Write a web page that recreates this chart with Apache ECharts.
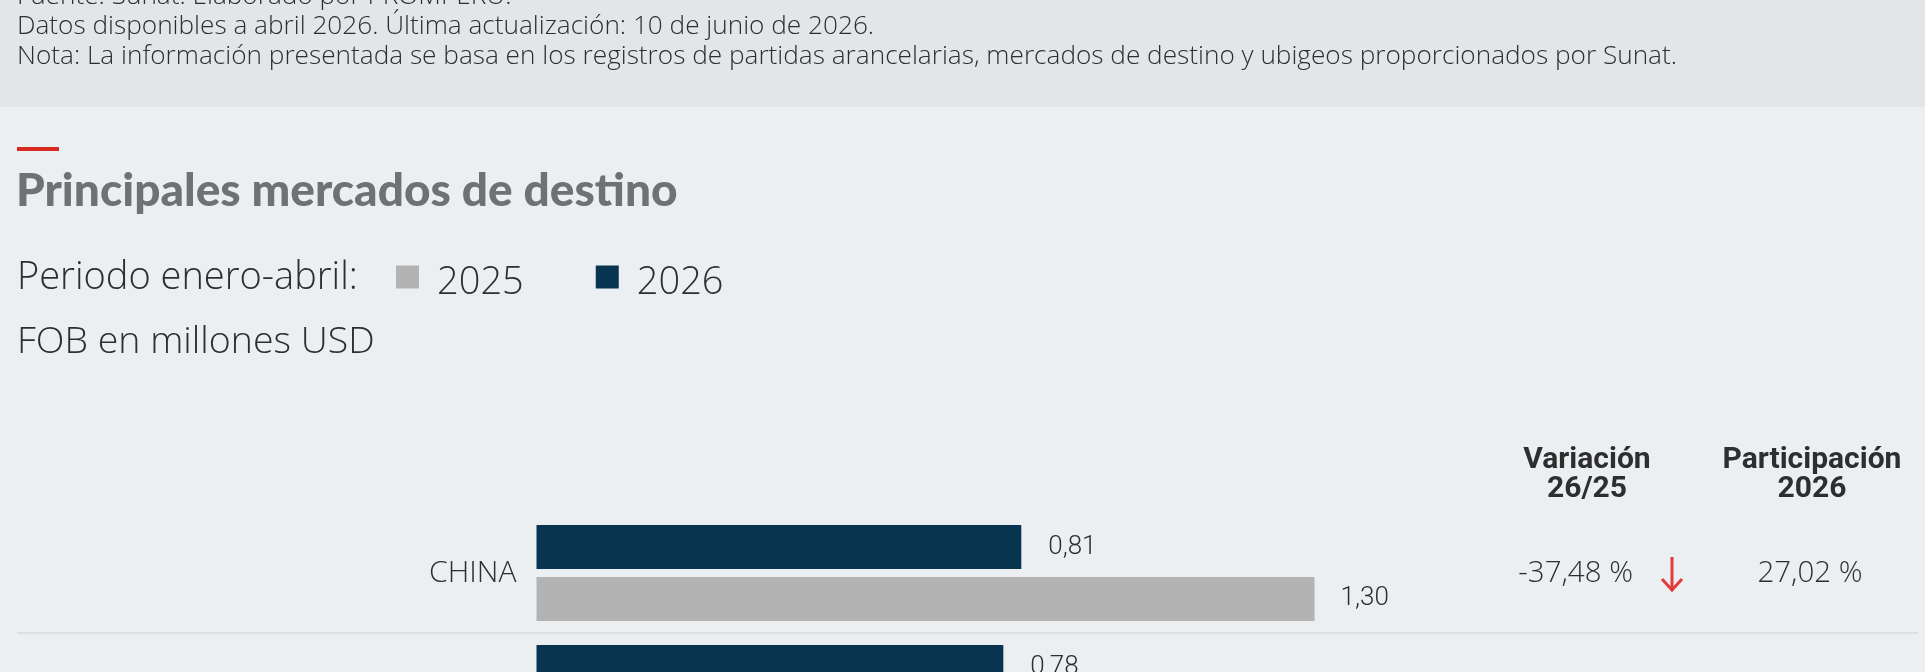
<!DOCTYPE html>
<html lang="es">
<head>
<meta charset="utf-8">
<title>Principales mercados de destino</title>
<script src="https://cdn.jsdelivr.net/npm/echarts@6/dist/echarts.min.js"></script>
<style>
  html, body { margin: 0; padding: 0; background: #ebeff2; }
  #main { width: 1925px; height: 672px; }
</style>
</head>
<body>
<div id="main"></div>
<script>
// Exportaciones FOB (millones USD), periodo enero-abril
const categories = ['CHINA', ''];
const values2026 = [0.81, 0.78];
const values2025 = [1.30, null];
// Columnas de la tabla: variación 26/25 y participación 2026 (%)
const variation = [-37.48];
const share = [27.02];

const notes = [
  'Fuente: Sunat. Elaborado por PROMPERÚ.',
  'Datos disponibles a abril 2026. Última actualización: 10 de junio de 2026.',
  'Nota: La información presentada se basa en los registros de partidas arancelarias, mercados de destino y ubigeos proporcionados por Sunat.'
];
const heading = 'Principales mercados de destino';
const periodLabel = 'Periodo enero-abril:';
const unitLabel = 'FOB en millones USD';
const colHeaders = [['Variación', '26/25'], ['Participación', '2026']];

const NUM_FONT = 'Roboto, "Noto Sans", sans-serif';
const LIGHT_FONT = '"Open Sans", "Noto Sans", sans-serif';
const TEXT = '#2e2e2e';
const NAVY = '#08344f';
const GREY = '#b3b3b3';

const fmt = (v, d) => v.toFixed(d).replace('.', ',');

const chart = echarts.init(document.getElementById('main'));

chart.setOption({
  animation: false,
  backgroundColor: '#ebeff2',
  legend: {
    left: 396,
    top: 252,
    padding: 0,
    itemWidth: 23,
    itemHeight: 23,
    itemGap: 72,
    icon: 'rect',
    data: ['2025', '2026'],
    formatter: '{t|{name}}',
    textStyle: {
      rich: {
        t: {
          fontFamily: LIGHT_FONT,
          fontWeight: 300,
          fontSize: 38,
          color: TEXT,
          lineHeight: 23,
          padding: [12, 0, 0, 13]
        }
      }
    },
    selectedMode: false
  },
  grid: { left: 536.5, top: 513, width: 1197, height: 240, outerBoundsMode: 'none', containLabel: false },
  xAxis: { type: 'value', min: 0, max: 2, show: false },
  yAxis: {
    type: 'category',
    inverse: true,
    data: categories,
    axisLine: { show: false },
    axisTick: { show: false },
    axisLabel: {
      margin: 20,
      fontFamily: LIGHT_FONT,
      fontWeight: 300,
      fontSize: 30,
      color: TEXT
    }
  },
  series: [
    {
      name: '2026',
      type: 'bar',
      data: values2026,
      barWidth: 44,
      barGap: '18%',
      itemStyle: { color: NAVY },
      label: {
        show: true,
        position: 'right',
        distance: 27,
        fontFamily: NUM_FONT,
        fontWeight: 300,
        fontSize: 26,
        color: TEXT,
        formatter: p => fmt(p.value, 2)
      }
    },
    {
      name: '2025',
      type: 'bar',
      data: values2025,
      barWidth: 44,
      itemStyle: { color: GREY },
      label: {
        show: true,
        position: 'right',
        distance: 26,
        fontFamily: NUM_FONT,
        fontWeight: 300,
        fontSize: 26,
        color: TEXT,
        formatter: p => fmt(p.value, 2)
      }
    }
  ]
});

// Static texts, table columns and row separators
const g = [];
g.push({ type: 'rect', shape: { x: 0, y: 0, width: 1925, height: 107 }, style: { fill: '#e3e6e9' }, z: 0 });
notes.forEach((t, i) => {
  g.push({ type: 'text', style: { text: t, x: 17, y: -3 + 30 * i, verticalAlign: 'middle',
    font: '300 26.2px ' + LIGHT_FONT, fill: TEXT }, z: 1 });
});
g.push({ type: 'rect', shape: { x: 17, y: 147, width: 42, height: 4 }, style: { fill: '#d72b21' } });
g.push({ type: 'text', style: { text: heading, x: 16, y: 191, verticalAlign: 'middle',
  font: '900 46px Lato, "Open Sans", sans-serif', fill: '#707174' } });
g.push({ type: 'text', style: { text: periodLabel, x: 17, y: 278, verticalAlign: 'middle',
  font: '300 38px ' + LIGHT_FONT, fill: TEXT } });
g.push({ type: 'text', style: { text: unitLabel, x: 17, y: 342, verticalAlign: 'middle',
  font: '300 37.5px ' + LIGHT_FONT, fill: TEXT } });

const colX = [1587, 1812];
colHeaders.forEach((lines, c) => {
  lines.forEach((t, i) => {
    g.push({ type: 'text', style: { text: t, x: colX[c], y: 460 + 29 * i, align: 'center',
      verticalAlign: 'middle', font: 'bold 30px ' + NUM_FONT, fill: TEXT } });
  });
});

const y0 = chart.convertToPixel({ yAxisIndex: 0 }, 0);
const y1 = chart.convertToPixel({ yAxisIndex: 0 }, 1);
const rowH = y1 - y0;

categories.forEach((c, i) => {
  const cy = chart.convertToPixel({ yAxisIndex: 0 }, i);
  g.push({ type: 'rect', shape: { x: 17, y: cy + rowH / 2 - 1, width: 1901, height: 2 },
    style: { fill: '#dcdee0' } });
  if (variation[i] != null) {
    g.push({ type: 'text', style: { text: fmt(variation[i], 2) + ' %', x: 1633, y: cy + 1,
      align: 'right', verticalAlign: 'middle', font: '300 29.5px ' + LIGHT_FONT, fill: TEXT } });
    // arrow showing the direction of change
    const up = variation[i] >= 0;
    const top = cy - 16, bot = cy + 17;
    const tip = up ? top : bot, tail = up ? bot : top;
    const head = up ? tip + 11 : tip - 11;
    g.push({ type: 'polyline', shape: { points: [[1672, tail], [1672, tip]] },
      style: { stroke: up ? '#2e9e4f' : '#e23b3b', lineWidth: 3, fill: null } });
    g.push({ type: 'polyline', shape: { points: [[1662, head], [1672, tip], [1682, head]] },
      style: { stroke: up ? '#2e9e4f' : '#e23b3b', lineWidth: 3, fill: null } });
  }
  if (share[i] != null) {
    g.push({ type: 'text', style: { text: fmt(share[i], 2) + ' %', x: 1810, y: cy + 1,
      align: 'center', verticalAlign: 'middle', font: '300 29.5px ' + LIGHT_FONT, fill: TEXT } });
  }
});

chart.setOption({ graphic: g });
</script>
</body>
</html>
